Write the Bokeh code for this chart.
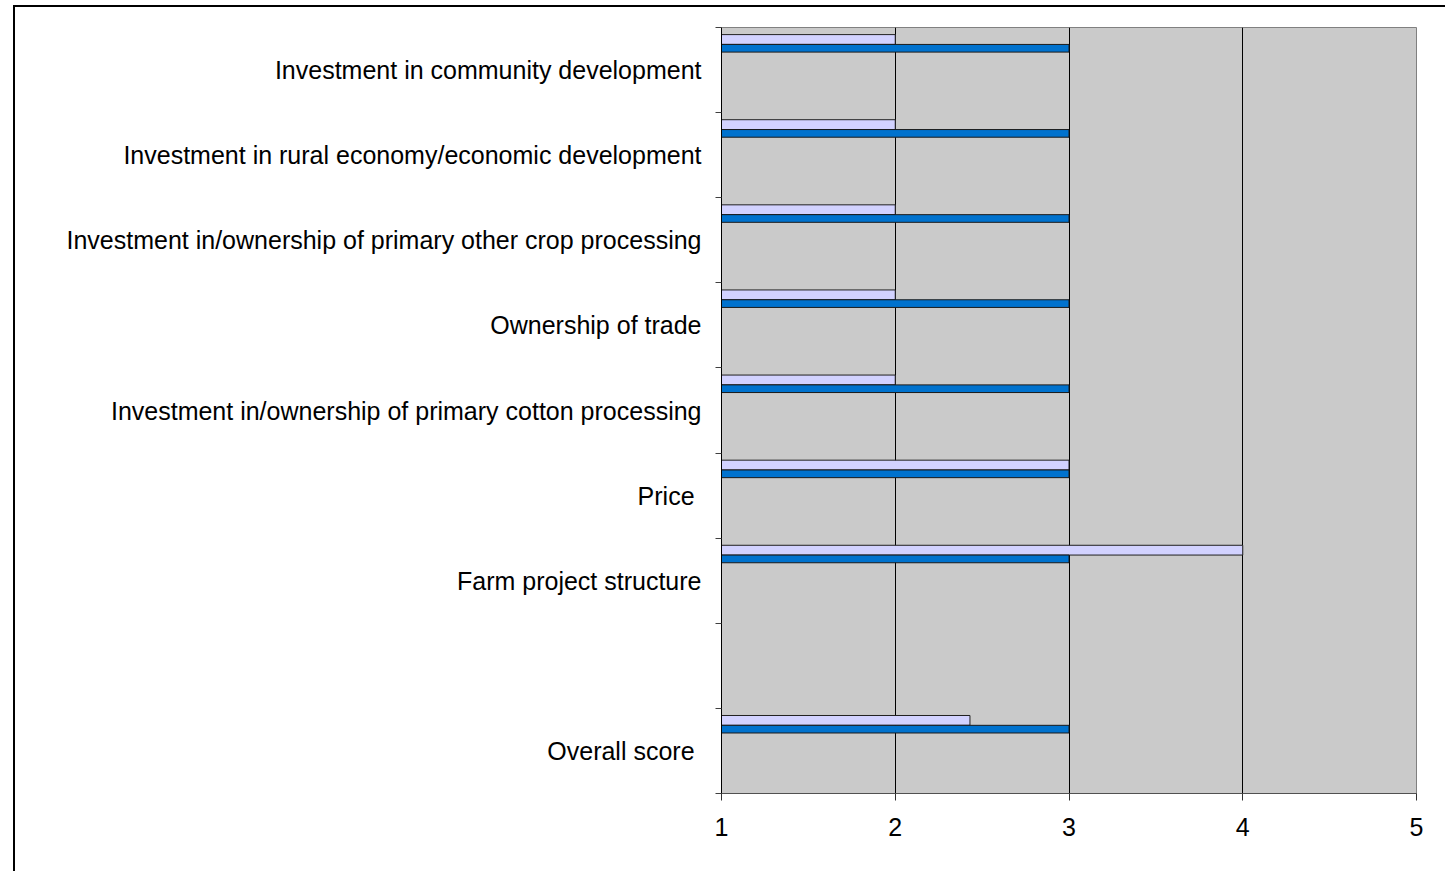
from bokeh.plotting import figure
from bokeh.models import Range1d, FixedTicker, ColumnDataSource
from bokeh.embed import file_html
from bokeh.resources import INLINE

# Categories listed top to bottom; the empty string leaves a blank row
categories = [
    "Investment in community development",
    "Investment in rural economy/economic development",
    "Investment in/ownership of primary other crop processing",
    "Ownership of trade",
    "Investment in/ownership of primary cotton processing",
    "Price ",
    "Farm project structure",
    "",
    "Overall score ",
]
score_1 = [2, 2, 2, 2, 2, 3, 4, None, 2.43]
score_2 = [3, 3, 3, 3, 3, 3, 3, None, 3]
x_ticks = [1, 2, 3, 4, 5]

FONT = "Liberation Sans"
n = len(categories)

# Each row spans one unit; row k (from top) runs from n-k down to n-k-1
row_top = [n - k for k in range(n)]
centers = [t - 0.5 for t in row_top]

rows = [k for k in range(n) if score_1[k] is not None]
src1 = ColumnDataSource(dict(
    y=[row_top[k] - 0.141 for k in rows],
    right=[score_1[k] for k in rows],
))
src2 = ColumnDataSource(dict(
    y=[row_top[k] - 0.244 for k in rows],
    right=[score_2[k] for k in rows],
))

p = figure(
    width=1432, height=866,
    x_range=Range1d(x_ticks[0], x_ticks[-1]),
    y_range=Range1d(0, n),
    output_backend="svg", toolbar_location=None,
    min_border_left=706, min_border_top=20,
    min_border_right=31, min_border_bottom=80,
)
p.styles = {
    "border-left": "2px solid black",
    "border-top": "2px solid black",
    "margin-left": "13px",
    "margin-top": "5px",
}

p.background_fill_color = "#CACACA"
p.border_fill_color = "white"
p.outline_line_color = "#808080"
p.outline_line_width = 1

p.hbar(y="y", left=x_ticks[0], right="right", height=0.115, source=src1,
       fill_color="#D2D2FF", line_color="#202020", line_width=1)
p.hbar(y="y", left=x_ticks[0], right="right", height=0.09, source=src2,
       fill_color="#0072CE", line_color="#1A1A1A", line_width=1)

# x axis
p.xaxis.ticker = FixedTicker(ticks=x_ticks)
p.xaxis.axis_line_color = "#505050"
p.xaxis.major_tick_line_color = "#303030"
p.xaxis.major_tick_out = 7
p.xaxis.major_tick_in = 0
p.xaxis.minor_tick_line_color = None
p.xaxis.major_label_text_font = FONT
p.xaxis.major_label_text_font_size = "25px"
p.xaxis.major_label_text_color = "black"
p.xaxis.major_label_standoff = 17

# y axis: labels at row centres, ticks at row boundaries
label_ticks = [centers[k] for k in range(n) if categories[k]]
p.yaxis.ticker = FixedTicker(ticks=label_ticks, minor_ticks=list(range(n + 1)))
p.yaxis.major_label_overrides = {centers[k]: categories[k] for k in range(n) if categories[k]}
p.yaxis.major_tick_line_color = None
p.yaxis.minor_tick_line_color = "#404040"
p.yaxis.minor_tick_out = 6
p.yaxis.minor_tick_in = 0
p.yaxis.axis_line_color = "black"
p.yaxis.major_label_text_font = FONT
p.yaxis.major_label_text_font_size = "25px"
p.yaxis.major_label_text_color = "black"
p.yaxis.major_label_standoff = 14

p.xgrid.ticker = FixedTicker(ticks=x_ticks[1:-1])
p.xgrid.grid_line_color = "black"
p.xgrid.grid_line_width = 1
p.ygrid.grid_line_color = None

open("out.html", "w").write(file_html(p, INLINE))
